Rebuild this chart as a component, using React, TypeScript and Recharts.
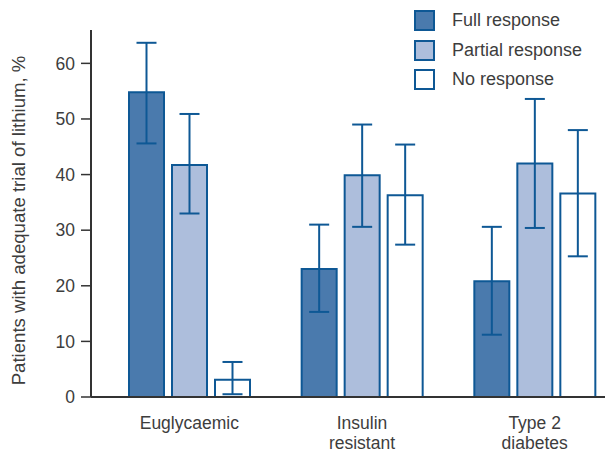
import React from "react";
import { BarChart, Bar, XAxis, YAxis, ErrorBar, Legend } from "recharts";

const categories = ["Euglycaemic", "Insulin\nresistant", "Type 2\ndiabetes"];
const fullValues = [54.8, 23.0, 20.8];
const fullLow = [45.6, 15.3, 11.2];
const fullHigh = [63.7, 31.0, 30.6];
const partialValues = [41.7, 39.9, 42.0];
const partialLow = [33.0, 30.6, 30.4];
const partialHigh = [50.9, 49.0, 53.6];
const noneValues = [3.1, 36.3, 36.6];
const noneLow = [0.5, 27.4, 25.3];
const noneHigh = [6.3, 45.4, 48.0];
const yTicks = [0, 10, 20, 30, 40, 50, 60];

const STROKE = "#0e5895";
const TEXT = "#3d3d3d";
const FONT = "'Liberation Sans', Arial, sans-serif";

const series = [
  { key: "full", name: "Full response", fill: "#4a7aad", values: fullValues, low: fullLow, high: fullHigh },
  { key: "partial", name: "Partial response", fill: "#adbedc", values: partialValues, low: partialLow, high: partialHigh },
  { key: "none", name: "No response", fill: "#ffffff", values: noneValues, low: noneLow, high: noneHigh },
];

const data = categories.map((c, i) => {
  const row: any = { category: c };
  series.forEach((s) => {
    row[s.key] = s.values[i];
    row[s.key + "Err"] = [s.values[i] - s.low[i], s.high[i] - s.values[i]];
  });
  return row;
});

const XTick = (props: any) => {
  const { x, y, payload } = props;
  const lines = String(payload.value).split("\n");
  return (
    <text x={x} y={y} textAnchor="middle" fill={TEXT} fontSize={17.5} fontFamily={FONT}>
      {lines.map((l, i) => (
        <tspan key={i} x={x} dy={i === 0 ? 24 : 20}>
          {l}
        </tspan>
      ))}
    </text>
  );
};

const YLabel = (props: any) => {
  const vb = props.viewBox || { y: 30, height: 367 };
  const cx = 18;
  const cy = vb.y + vb.height / 2 + 7;
  return (
    <text
      x={cx}
      y={cy}
      transform={`rotate(-90 ${cx} ${cy})`}
      textAnchor="middle"
      dominantBaseline="central"
      fill={TEXT}
      fontSize={18.6}
      fontFamily={FONT}
    >
      Patients with adequate trial of lithium, %
    </text>
  );
};

const LegendContent = () => (
  <div style={{ fontFamily: FONT, fontSize: 18, color: TEXT }}>
    {series.map((s) => (
      <div key={s.key} style={{ display: "flex", alignItems: "center", height: 29.5 }}>
        <div
          style={{
            width: 17,
            height: 17,
            background: s.fill,
            border: `2px solid ${STROKE}`,
            marginRight: 17,
          }}
        />
        <span>{s.name}</span>
      </div>
    ))}
  </div>
);

export default function App() {
  return (
    <div style={{ position: "absolute", left: 0, top: 0, width: 605, height: 455, overflow: "hidden", background: "#fff" }}>
      <BarChart
        width={625}
        height={455}
        data={data}
        margin={{ top: 30, right: 4, bottom: 0, left: 0 }}
        barSize={35}
        barGap={8}
      >
        <XAxis
          dataKey="category"
          height={58}
          padding={{ left: 12, right: 0 }}
          axisLine={{ stroke: "#333", strokeWidth: 2 }}
          tickLine={false}
          tick={<XTick />}
          interval={0}
        />
        <YAxis
          width={91}
          domain={[0, 66]}
          ticks={yTicks}
          allowDataOverflow
          axisLine={{ stroke: "#333", strokeWidth: 2 }}
          tickLine={{ stroke: "#333", strokeWidth: 1.5 }}
          tickSize={10}
          tickMargin={6}
          tick={{ fill: TEXT, fontSize: 17.5, fontFamily: FONT }}
          label={<YLabel />}
        />
        <Legend
          layout="vertical"
          verticalAlign="middle"
          align="center"
          wrapperStyle={{ top: 6, left: 414, width: 200 }}
          content={<LegendContent />}
        />
        {series.map((s) => (
          <Bar
            key={s.key}
            dataKey={s.key}
            name={s.name}
            fill={s.fill}
            stroke={STROKE}
            strokeWidth={2}
            isAnimationActive={false}
          >
            <ErrorBar dataKey={s.key + "Err"} width={10} stroke={STROKE} strokeWidth={2} direction="y" />
          </Bar>
        ))}
      </BarChart>
    </div>
  );
}
